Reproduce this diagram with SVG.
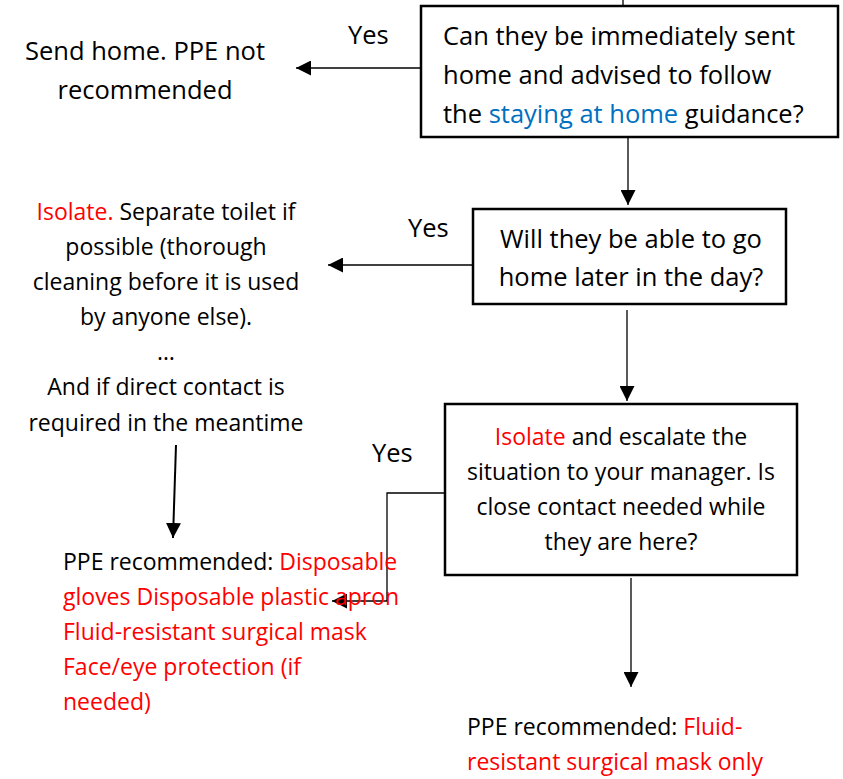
<svg xmlns="http://www.w3.org/2000/svg" width="843" height="779" viewBox="0 0 843 779">
<defs>
<style>
text{font-family:"Open Sans","Noto Sans",sans-serif;font-size:23px;fill:#000}
.L{font-size:25.5px}
.c{text-anchor:middle}
.r{fill:#ff0000}
.b{fill:#0070c0}
.box{fill:#fff;stroke:#000;stroke-width:2.5}
.ln{fill:none;stroke:#000;stroke-width:1.3}
.lnb{fill:none;stroke:#000;stroke-width:2}
</style>
<marker id="ah" viewBox="0 0 10 10" refX="10" refY="5" markerWidth="15" markerHeight="15" markerUnits="userSpaceOnUse" orient="auto"><path d="M0,0L10,5L0,10z" fill="#000"/></marker>
</defs>
<g id="connectors">
<line class="ln" x1="623" y1="0" x2="623" y2="6"/>
<line class="ln" x1="421" y1="68" x2="296" y2="68" marker-end="url(#ah)"/>
<line class="ln" x1="628" y1="138" x2="628" y2="205" marker-end="url(#ah)"/>
<line class="ln" x1="473" y1="265" x2="328" y2="265" marker-end="url(#ah)"/>
<line class="ln" x1="627" y1="310" x2="627" y2="401" marker-end="url(#ah)"/>
<polyline class="ln" points="445,493 387,493 387,601 332,601" marker-end="url(#ah)"/>
<line class="ln" x1="631" y1="578" x2="631" y2="687" marker-end="url(#ah)"/>
<line class="lnb" x1="176" y1="445" x2="173" y2="538" marker-end="url(#ah)"/>
</g>
<g id="q1">
<rect class="box" x="421" y="6" width="417" height="131"/>
<text class="L" x="443" y="45">Can they be immediately sent</text>
<text class="L" x="443" y="84">home and advised to follow</text>
<text class="L" x="443" y="123">the <tspan class="b">staying at home</tspan> guidance?</text>
</g>
<g id="yes1"><text class="L" x="348" y="44">Yes</text></g>
<g id="sendhome">
<text class="c L" x="145" y="60">Send home. PPE not</text>
<text class="c L" x="145" y="99">recommended</text>
</g>
<g id="q2">
<rect class="box" x="473" y="209" width="313" height="95"/>
<text class="c L" x="631" y="248">Will they be able to go</text>
<text class="c L" x="631" y="286">home later in the day?</text>
</g>
<g id="yes2"><text class="L" x="408" y="237">Yes</text></g>
<g id="isolate1">
<text class="c" x="166" y="220"><tspan class="r">Isolate.</tspan> Separate toilet if</text>
<text class="c" x="166" y="255">possible (thorough</text>
<text class="c" x="166" y="290">cleaning before it is used</text>
<text class="c" x="166" y="325">by anyone else).</text>
<text class="c" x="166" y="360">…</text>
<text class="c" x="166" y="395">And if direct contact is</text>
<text class="c" x="166" y="431">required in the meantime</text>
</g>
<g id="q3">
<rect class="box" x="445" y="404" width="352" height="171"/>
<text class="c" x="621" y="445"><tspan class="r">Isolate</tspan> and escalate the</text>
<text class="c" x="621" y="480">situation to your manager. Is</text>
<text class="c" x="621" y="515">close contact needed while</text>
<text class="c" x="621" y="550">they are here?</text>
</g>
<g id="yes3"><text class="L" x="372" y="462">Yes</text></g>
<g id="ppe1">
<text x="63" y="570">PPE recommended: <tspan class="r">Disposable</tspan></text>
<text x="63" y="605" class="r">gloves Disposable plastic apron</text>
<text x="63" y="640" class="r">Fluid-resistant surgical mask</text>
<text x="63" y="675" class="r">Face/eye protection (if</text>
<text x="63" y="710" class="r">needed)</text>
</g>
<g id="ppe2">
<text x="467" y="735">PPE recommended: <tspan class="r">Fluid-</tspan></text>
<text x="467" y="770" class="r">resistant surgical mask only</text>
</g>
</svg>
